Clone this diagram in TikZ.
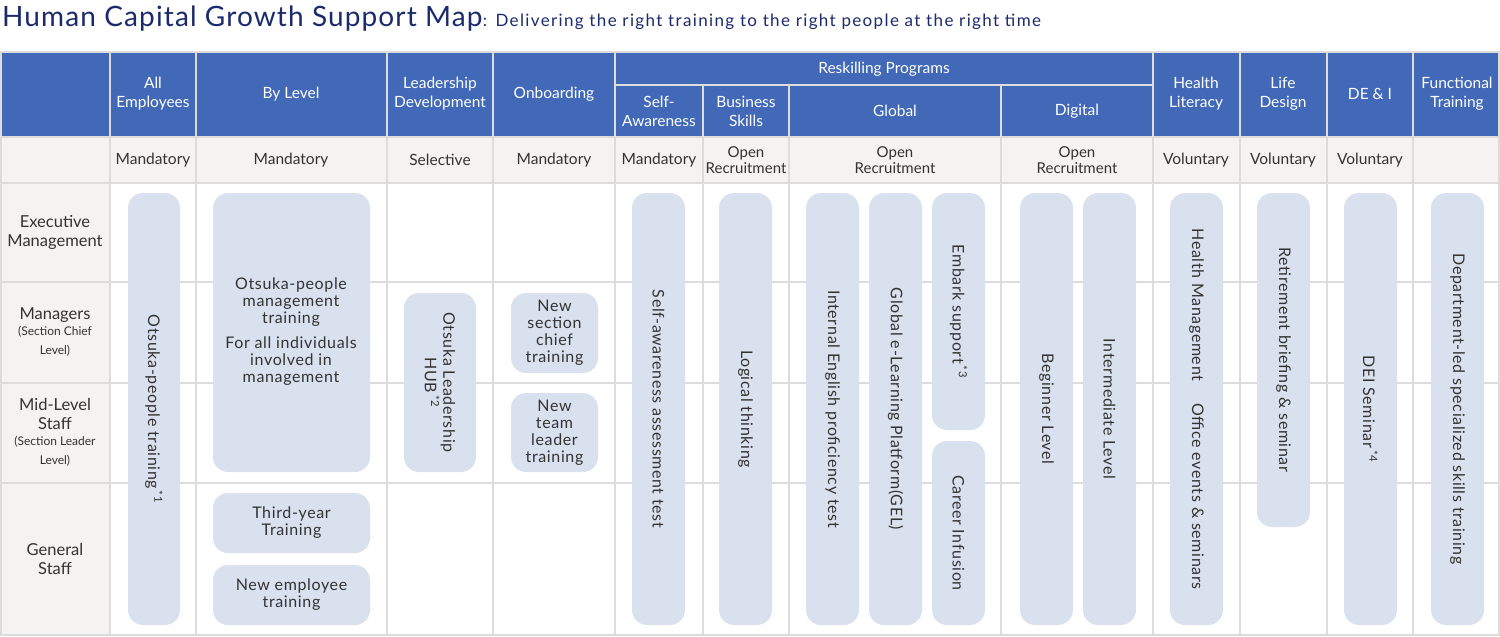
\documentclass[tikz,border=0pt]{standalone}
\usepackage{fontspec}
\setmainfont{Lato}
\newfontfamily\pillfont[LetterSpace=4]{Lato}
\newfontfamily\titlefont[LetterSpace=4]{Lato}
\newfontfamily\subfont[LetterSpace=8]{Lato}
\definecolor{headblue}{HTML}{4169B8}
\definecolor{titlenavy}{HTML}{1B2A6B}
\definecolor{rowgray}{HTML}{F4F3F2}
\definecolor{gridgray}{HTML}{DCDCDC}
\definecolor{pillblue}{HTML}{D9E0EE}
\definecolor{inkgray}{HTML}{333333}
\tikzset{
  pill/.style={fill=pillblue, rounded corners=15pt, inner sep=0pt},
  pilltext/.style={text=inkgray, font=\pillfont\fontsize{16}{17}\selectfont, align=center},
  vtext/.style={pilltext, rotate=-90},
  headtext/.style={text=white, font=\fontsize{15.5}{19}\selectfont, align=center},
  kindtext/.style={text=inkgray, font=\fontsize{15.5}{15}\selectfont, align=center},
  rowtext/.style={text=inkgray, font=\fontsize{16.5}{19}\selectfont, align=center},
  gridline/.style={draw=gridgray, line width=2pt},
}
% pill: x1 y1 x2 y2 name
\newcommand\pillbox[5]{\node[pill, minimum width={(#3-#1)*1pt}, minimum height={(#4-#2)*1pt}] (#5) at ({(#1+#3)/2},{(#2+#4)/2}) {};}
\newcommand\sref[1]{\textsuperscript{\,*#1}}
\newcommand\smallrow{\fontsize{12}{15}\selectfont}
\begin{document}
\begin{tikzpicture}[x=1pt, y=-1pt]
  \useasboundingbox (0,0) rectangle (1500,637);
  % title
  \node[anchor=base west, inner sep=0pt, text=titlenavy, font=\titlefont\fontsize{28}{28}\selectfont] (title) at (2,27) {Human Capital Growth Support Map};
  \node[anchor=base west, inner sep=0pt, text=titlenavy, font=\subfont\fontsize{17}{17}\selectfont] (subtitle) at (title.base east) {:\enspace Delivering the right training to the right people at the right time};

  % backgrounds
  \fill[headblue] (0,52) rectangle (1500,137);
  \fill[rowgray] (0,137) rectangle (1500,183);
  \fill[rowgray] (0,183) rectangle (110,635);

  % grid
  \foreach \gx in {1,110,196,387,493,615,1153,1240,1327,1413,1499}
    \draw[gridline] (\gx,51) -- (\gx,636);
  \foreach \gx in {703,789,1001}
    \draw[gridline] (\gx,85) -- (\gx,636);
  \foreach \gy in {52,137,183,282,383,483,635}
    \draw[gridline] (0,\gy) -- (1500,\gy);
  \draw[gridline] (615,85) -- (1153,85);

  % header row
  \node[headtext] (hall) at (153,94) {All\\Employees};
  \node[headtext] (hlevel) at (291,94) {By Level};
  \node[headtext] (hlead) at (440,94) {Leadership\\Development};
  \node[headtext] (honb) at (554,94) {Onboarding};
  \node[headtext] (hresk) at (884,69) {Reskilling Programs};
  \node[headtext] (hself) at (659,111) {Self-\\Awareness};
  \node[headtext] (hbus) at (746,111) {Business\\Skills};
  \node[headtext] (hglob) at (895,111) {Global};
  \node[headtext] (hdig) at (1077,111) {Digital};
  \node[headtext] (hhealth) at (1196,94) {Health\\Literacy};
  \node[headtext] (hlife) at (1283,94) {Life\\Design};
  \node[headtext] (hdei) at (1370,94) {DE \& I};
  \node[headtext] (hfunc) at (1457,94) {Functional\\Training};

  % kind row
  \node[kindtext] (kall) at (153,160) {Mandatory};
  \node[kindtext] (klevel) at (291,160) {Mandatory};
  \node[kindtext] (klead) at (440,160) {Selective};
  \node[kindtext] (konb) at (554,160) {Mandatory};
  \node[kindtext] (kself) at (659,160) {Mandatory};
  \node[kindtext, font=\fontsize{15}{16}\selectfont] (kbus) at (746,160) {Open\\Recruitment};
  \node[kindtext, font=\fontsize{15}{16}\selectfont] (kglob) at (895,160) {Open\\Recruitment};
  \node[kindtext, font=\fontsize{15}{16}\selectfont] (kdig) at (1077,160) {Open\\Recruitment};
  \node[kindtext] (khealth) at (1196,160) {Voluntary};
  \node[kindtext] (klife) at (1283,160) {Voluntary};
  \node[kindtext] (kdei) at (1370,160) {Voluntary};

  % row labels
  \node[rowtext] (rexec) at (55,232) {Executive\\Management};
  \node[rowtext] (rmgr) at (55,332) {Managers\\[-3pt]\smallrow (Section Chief\\\smallrow Level)};
  \node[rowtext] (rmid) at (55,432) {Mid-Level\\Staff\\[-3pt]\smallrow (Section Leader\\\smallrow Level)};
  \node[rowtext] (rgen) at (55,559) {General\\Staff};

  % all employees
  \pillbox{128}{193}{180}{625}{pall}
  \node[vtext] at (pall) {Otsuka-people training\sref{1}};
  % by level
  \pillbox{213}{193}{370}{472}{pmgmt}
  \node[pilltext] at (291,332) {Otsuka-people\\management\\training\\[8pt]For all individuals\\involved in\\management};
  \pillbox{213}{493}{370}{553}{pthird}
  \node[pilltext] at (pthird) {Third-year\\Training};
  \pillbox{213}{565}{370}{625}{pnew}
  \node[pilltext] at (pnew) {New employee\\training};
  % leadership
  \pillbox{404}{293}{476}{472}{phub}
  \node[vtext] at (phub) {Otsuka Leadership\\HUB\sref{2}};
  % onboarding
  \pillbox{511}{293}{598}{373}{pchief}
  \node[pilltext] at (pchief) {New\\section\\chief\\training};
  \pillbox{511}{393}{598}{472}{pteam}
  \node[pilltext] at (pteam) {New\\team\\leader\\training};
  % reskilling
  \pillbox{632}{193}{685}{625}{pself}
  \node[vtext] at (pself) {Self-awareness assessment test};
  \pillbox{719}{193}{772}{625}{plogic}
  \node[vtext] at (plogic) {Logical thinking};
  \pillbox{806}{193}{859}{625}{peng}
  \node[vtext] at (peng) {Internal English proficiency test};
  \pillbox{869}{193}{922}{625}{pgel}
  \node[vtext] at (pgel) {Global e-Learning Platform(GEL)};
  \pillbox{932}{193}{985}{430}{pembark}
  \node[vtext] at (pembark) {Embark support\sref{3}};
  \pillbox{932}{441}{985}{625}{pcareer}
  \node[vtext] at (pcareer) {Career Infusion};
  \pillbox{1020}{193}{1073}{625}{pbegin}
  \node[vtext] at (pbegin) {Beginner Level};
  \pillbox{1083}{193}{1136}{625}{pinter}
  \node[vtext] at (pinter) {Intermediate Level};
  % health, life, dei, functional
  \pillbox{1170}{193}{1223}{625}{phealth}
  \node[vtext] at (phealth) {Health Management\hspace{22pt}Office events \& seminars};
  \pillbox{1257}{193}{1310}{527}{plife}
  \node[vtext] at (plife) {Retirement briefing \& seminar};
  \pillbox{1344}{193}{1397}{625}{pdei}
  \node[vtext] at (pdei) {DEI Seminar\sref{4}};
  \pillbox{1431}{193}{1484}{625}{pfunc}
  \node[vtext] at (pfunc) {Department-led specialized skills training};
\end{tikzpicture}
\end{document}
